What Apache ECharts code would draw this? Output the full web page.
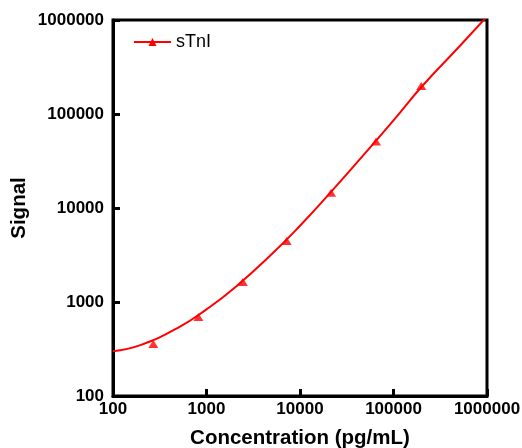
<!DOCTYPE html>
<html>
<head>
<meta charset="utf-8">
<script src="https://cdn.jsdelivr.net/npm/echarts@6/dist/echarts.min.js"></script>
<style>
  html, body { margin: 0; padding: 0; background: #fff; }
  #chart { width: 522px; height: 448px; }
</style>
</head>
<body>
<div id="chart"></div>
<script>
// measured points (triangles)
var pointConc = [270, 820, 2450, 7200, 21500, 65000, 198000];
var pointSignal = [357, 692, 1630, 4450, 14500, 51000, 199000];
// fitted curve
var curveConc = [100, 200, 500, 1000, 2000, 5000, 10000, 20000, 50000, 100000, 200000, 500000, 1000000];
var curveSignal = [300, 350, 535, 835, 1420, 3240, 6470, 13700, 38500, 85500, 195000, 516000, 1090000];

var font = 'Liberation Sans, Arial, sans-serif';

function pairs(xs, ys) {
    return xs.map(function (x, i) { return [x, ys[i]]; });
}

var mychart = echarts.init(document.getElementById('chart'));
var option = {
    animation: false,
    legend: {
        left: 133,
        top: 33,
        padding: 0,
        itemWidth: 37,
        itemHeight: 10,
        itemGap: 4,
        data: ['sTnI'],
        textStyle: {
            fontFamily: font,
            fontSize: 18,
            color: '#000'
        }
    },
    grid: {
        left: 113,
        top: 20,
        right: 35,
        bottom: 52,
        outerBoundsMode: 'none',
        show: true,
        borderColor: '#000',
        borderWidth: 3
    },
    xAxis: {
        type: 'log',
        logBase: 10,
        min: 100,
        max: 1000000,
        name: 'Concentration (pg/mL)',
        nameLocation: 'middle',
        nameMoveOverlap: false,
        nameGap: 32,
        nameTextStyle: {
            fontFamily: font,
            fontSize: 20.5,
            fontWeight: 'bold',
            color: '#000'
        },
        axisLine: { lineStyle: { color: '#000', width: 3 } },
        axisTick: { inside: true, length: 7, lineStyle: { color: '#000', width: 3 } },
        minorTick: { show: false },
        splitLine: { show: false },
        axisLabel: {
            margin: 5,
            fontFamily: font,
            fontSize: 17,
            fontWeight: 'bold',
            color: '#000',
            formatter: function (v) { return String(Math.round(v)); }
        }
    },
    yAxis: {
        type: 'log',
        logBase: 10,
        min: 100,
        max: 1000000,
        name: 'Signal',
        nameLocation: 'middle',
        nameMoveOverlap: false,
        nameGap: 83,
        nameTextStyle: {
            fontFamily: font,
            fontSize: 20.5,
            fontWeight: 'bold',
            color: '#000'
        },
        axisLine: { lineStyle: { color: '#000', width: 3 } },
        axisTick: { inside: true, length: 7, lineStyle: { color: '#000', width: 3 } },
        splitLine: { show: false },
        axisLabel: {
            margin: 9,
            fontFamily: font,
            fontSize: 17,
            fontWeight: 'bold',
            color: '#000',
            formatter: function (v) { return String(Math.round(v)); }
        }
    },
    series: [
        {
            name: 'sTnI',
            type: 'line',
            smooth: true,
            showSymbol: false,
            symbol: 'triangle',
            symbolSize: 9,
            clip: true,
            itemStyle: { color: '#ff0000' },
            lineStyle: { color: '#ff0000', width: 2 },
            data: pairs(curveConc, curveSignal),
            z: 2
        },
        {
            name: 'sTnI',
            type: 'scatter',
            symbol: 'triangle',
            symbolSize: [10, 8],
            itemStyle: { color: '#ff0000' },
            data: pairs(pointConc, pointSignal),
            z: 3
        }
    ]
};
mychart.setOption(option);
</script>
</body>
</html>
